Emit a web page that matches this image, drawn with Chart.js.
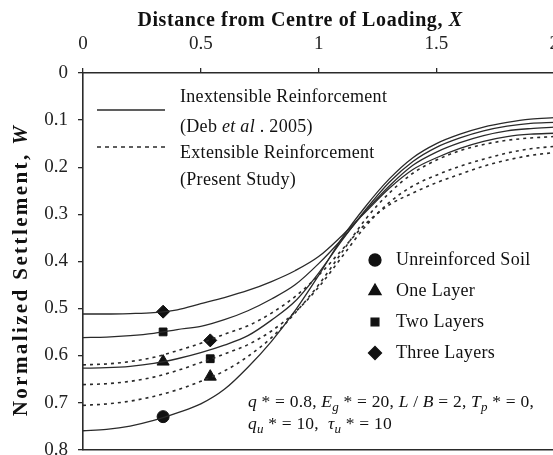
<!DOCTYPE html>
<html><head><meta charset="utf-8">
<style>
html,body{margin:0;padding:0;background:#fff;overflow:hidden;width:553px;height:455px}
#wrap{position:absolute;left:0;top:0;width:572px;height:471px}
</style>
<script src="https://cdn.jsdelivr.net/npm/chart.js@4/dist/chart.umd.min.js"></script>
</head><body><div id="wrap"><canvas id="c" width="572" height="471"></canvas></div>
<script>
// ---- data ----
const distanceX = [0,0.1,0.2,0.3,0.4,0.5,0.6,0.7,0.8,0.9,1.0,1.1,1.2,1.3,1.4,1.5,1.6,1.7,1.8,1.9,2.0];
const unreinforcedW = [0.760,0.757,0.750,0.738,0.722,0.703,0.672,0.625,0.570,0.505,0.430,0.350,0.283,0.225,0.180,0.150,0.130,0.115,0.105,0.098,0.095];
const inextOneW   = [0.627,0.626,0.623,0.617,0.607,0.594,0.578,0.558,0.525,0.485,0.425,0.355,0.290,0.232,0.188,0.158,0.138,0.123,0.113,0.107,0.105];
const inextTwoW   = [0.562,0.561,0.558,0.553,0.545,0.538,0.524,0.505,0.480,0.450,0.405,0.352,0.293,0.240,0.196,0.168,0.148,0.133,0.123,0.118,0.115];
const inextThreeW = [0.512,0.512,0.511,0.509,0.503,0.490,0.477,0.462,0.443,0.420,0.390,0.345,0.295,0.245,0.205,0.180,0.160,0.145,0.135,0.130,0.128];
const extOneW     = [0.706,0.703,0.697,0.687,0.673,0.655,0.633,0.602,0.562,0.510,0.450,0.380,0.310,0.255,0.213,0.185,0.165,0.152,0.143,0.138,0.135];
const extTwoW     = [0.662,0.660,0.655,0.646,0.632,0.615,0.597,0.577,0.548,0.508,0.455,0.390,0.325,0.275,0.240,0.217,0.198,0.183,0.170,0.161,0.156];
const extThreeW   = [0.620,0.618,0.613,0.604,0.590,0.574,0.555,0.537,0.510,0.475,0.430,0.375,0.320,0.280,0.255,0.233,0.215,0.198,0.185,0.175,0.169];
// marker positions (X) and their W values: [unreinforced, one, two, three]
const inextMarkerX = 0.34;
const inextMarkerW = [0.730, 0.613, 0.550, 0.507];
const extMarkerX = 0.54;
const extMarkerW = [0.645, 0.607, 0.568];   // [one, two, three]
const markerStyles = ['circle','triangle','rect','rectRot'];
const markerLabels = ['Unreinforced Soil','One Layer','Two Layers','Three Layers'];
const xTicks = [0,0.5,1,1.5,2];
const yTicks = [0,0.1,0.2,0.3,0.4,0.5,0.6,0.7,0.8];

const INK = '#2a2a2a';
const SERIF = '"Liberation Serif","Times New Roman",serif';
const pts = arr => distanceX.map((x,i)=>({x:x,y:arr[i]}));
const radiusFor = s => s==='circle'?6:(s==='triangle'?7:(s==='rect'?5.5:6.5));

function lineDs(arr, dashed){
  return {type:'line', data:pts(arr), borderColor:INK, borderWidth:dashed?1.6:1.3,
    borderDash:dashed?[3,4]:[], pointRadius:0, cubicInterpolationMode:'monotone', fill:false};
}
function markDs(x, w, style){
  return {type:'scatter', data:[{x:x,y:w}], pointStyle:style, backgroundColor:'#111', borderColor:'#111',
    pointRadius: radiusFor(style), borderWidth:1, showLine:false};
}

const datasets = [
  lineDs(unreinforcedW,false), lineDs(inextOneW,false), lineDs(inextTwoW,false), lineDs(inextThreeW,false),
  lineDs(extOneW,true), lineDs(extTwoW,true), lineDs(extThreeW,true)
];
inextMarkerW.forEach((w,i)=>datasets.push(markDs(inextMarkerX,w,markerStyles[i])));
extMarkerW.forEach((w,i)=>datasets.push(markDs(extMarkerX,w,markerStyles[i+1])));

function drawRuns(ctx, runs, x, y, size){
  for(const [t,st] of runs){
    let f, dy=0;
    if(st==='i') f='italic '+size+'px '+SERIF;
    else if(st==='sub'){ f='italic '+Math.round(size*0.75)+'px '+SERIF; dy=size*0.3; }
    else f=size+'px '+SERIF;
    ctx.font=f; ctx.fillText(t,x,y+dy); x+=ctx.measureText(t).width;
  }
}
function runsWidth(ctx, runs, size){
  let w=0; for(const [t,st] of runs){
    ctx.font=(st==='bi'?'bold italic ':'bold ')+size+'px '+SERIF; w+=ctx.measureText(t).width;} return w;
}
function drawBoldRuns(ctx, runs, cx, cy, size){
  const w=runsWidth(ctx,runs,size); let x=cx-w/2;
  for(const [t,st] of runs){ ctx.font=(st==='bi'?'bold italic ':'bold ')+size+'px '+SERIF; ctx.fillText(t,x,cy); x+=ctx.measureText(t).width; }
}

const textPlugin = {
  id:'texts',
  afterDraw(chart){
    const ctx=chart.ctx; ctx.save(); ctx.fillStyle='#111'; ctx.textBaseline='middle'; ctx.textAlign='left';
    // axis titles
    ctx.letterSpacing='0.6px';
    drawBoldRuns(ctx, [['Distance from Centre of Loading, ','b'],['X','bi']], 300, 21, 20);
    ctx.save(); ctx.translate(22,270); ctx.rotate(-Math.PI/2);
    ctx.letterSpacing='2.4px';
    drawBoldRuns(ctx, [['Normalized Settlement, ','b'],['W','bi']], 0, 0, 21);
    ctx.restore();
    ctx.letterSpacing='0.3px';
    // line legend
    ctx.strokeStyle=INK; ctx.lineWidth=1.3; ctx.setLineDash([]);
    ctx.beginPath(); ctx.moveTo(97,110); ctx.lineTo(165,110); ctx.stroke();
    ctx.setLineDash([4,4]);
    ctx.beginPath(); ctx.moveTo(97,147); ctx.lineTo(165,147); ctx.stroke();
    ctx.setLineDash([]);
    const fs=18;
    drawRuns(ctx, [['Inextensible Reinforcement','n']], 180, 97, fs);
    drawRuns(ctx, [['(Deb ','n'],['et al','i'],[' . 2005)','n']], 180, 127, fs);
    drawRuns(ctx, [['Extensible Reinforcement','n']], 180, 153, fs);
    drawRuns(ctx, [['(Present Study)','n']], 180, 180, fs);
    // marker legend
    const ly=[260,291,322,353];
    markerStyles.forEach((s,i)=>{
      ctx.fillStyle='#111'; ctx.strokeStyle='#111';
      Chart.helpers.drawPoint(ctx,{pointStyle:s, radius: radiusFor(s), rotation:0, borderWidth:1}, 375, ly[i]);
      drawRuns(ctx, [[markerLabels[i],'n']], 396, ly[i], 18);
    });
    // parameters
    ctx.letterSpacing='0.2px';
    drawRuns(ctx, [['q','i'],[' * = 0.8, ','n'],['E','i'],['g','sub'],[' * = 20, ','n'],['L','i'],[' / ','n'],['B','i'],[' = 2, ','n'],['T','i'],['p','sub'],[' * = 0,','n']], 248, 402, 17.5);
    drawRuns(ctx, [['q','i'],['u','sub'],[' * = 10,  ','n'],['\u03c4','i'],['u','sub'],[' * = 10','n']], 248, 424, 17.5);
    ctx.restore();
  }
};

new Chart(document.getElementById('c'), {
  type:'line',
  data:{datasets},
  options:{
    responsive:false, animation:false, devicePixelRatio:1,
    layout:{padding:{left:0,top:0,right:0,bottom:0}},
    plugins:{legend:{display:false}, tooltip:{enabled:false}},
    scales:{
      x:{type:'linear', position:'top', min:0, max:2,
        afterBuildTicks:s=>{s.ticks=xTicks.map(v=>({value:v}));},
        afterFit:s=>{s.height=73;},
        ticks:{color:'#222', padding:13, font:{family:SERIF,size:19}, callback:v=>String(v)},
        grid:{drawOnChartArea:false, drawTicks:true, tickLength:5, color:INK, lineWidth:1.3},
        border:{display:true, color:INK, width:1.6}},
      xb:{type:'linear', position:'bottom', min:0, max:2, display:true,
        ticks:{display:false}, grid:{display:false, drawTicks:false},
        border:{display:true, color:INK, width:1.6}, afterFit:s=>{s.height=0;}},
      y:{type:'linear', reverse:true, min:0, max:0.8,
        afterBuildTicks:s=>{s.ticks=yTicks.map(v=>({value:v}));},
        afterFit:s=>{s.width=83;},
        ticks:{color:'#222', padding:10, font:{family:SERIF,size:19}, callback:v=>v===0?'0':v.toFixed(1)},
        grid:{drawOnChartArea:false, drawTicks:true, tickLength:5, color:INK, lineWidth:1.3},
        border:{display:true, color:INK, width:1.6}}
    }
  },
  plugins:[textPlugin]
});
</script></body></html>
